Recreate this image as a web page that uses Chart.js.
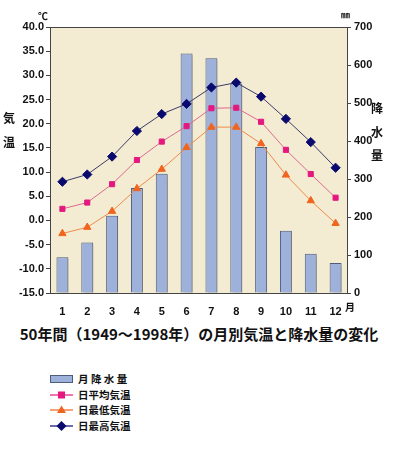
<!DOCTYPE html>
<html><head><meta charset="utf-8">
<script src="https://cdn.jsdelivr.net/npm/chart.js@4"></script>
<style>
html,body{margin:0;padding:0;background:#fff;width:397px;height:449px;overflow:hidden;position:relative;font-family:"Noto Sans CJK JP","Liberation Sans",sans-serif;}
#wrap{position:absolute;left:0;top:0;width:397px;height:320px;}
.lbl{position:absolute;font-weight:bold;color:#111;line-height:1;white-space:nowrap;}
.vert{position:absolute;font-weight:bold;color:#111;font-size:12px;line-height:23.5px;width:14px;text-align:center;}
#title{position:absolute;left:0;width:398px;top:326px;text-align:center;font-size:15px;font-weight:bold;color:#111;line-height:1;}
#legend{position:absolute;left:50px;top:371px;}
.li{height:15.6px;position:relative;}
.li .sym{position:absolute;left:0;top:0;width:23px;height:15px;}
.li .txt{position:absolute;left:28px;top:1px;font-size:10.5px;font-weight:bold;color:#111;line-height:13px;white-space:nowrap;}
</style></head>
<body>
<div id="wrap"><canvas id="c" width="397" height="320"></canvas></div>
<div class="lbl" style="left:38px;top:11px;font-size:10px;">℃</div>
<div class="lbl" style="left:341px;top:10px;font-size:9px;">㎜</div>
<div class="lbl" style="left:345px;top:302px;font-size:10px;">月</div>
<div class="vert" style="left:2px;top:106px;">気<br>温</div>
<div class="vert" style="left:370px;top:96px;">降<br>水<br>量</div>
<div id="title">50年間（1949～1998年）の月別気温と降水量の変化</div>
<div id="legend"></div>
<script>
const months = ['1','2','3','4','5','6','7','8','9','10','11','12'];
const precipitation = [94,133,203,276,314,630,618,551,384,164,103,79];
const tempAvg = [2.4,3.7,7.5,12.5,16.3,19.5,23.2,23.3,20.4,14.6,9.6,4.7];
const tempMin = [-2.7,-1.4,1.9,6.6,10.6,15.1,19.3,19.3,15.9,9.4,4.1,-0.6];
const tempMax = [8.0,9.5,13.2,18.5,22.0,24.1,27.5,28.5,25.6,21.0,16.2,10.9];
const tempTicks = {min:-15,max:40,step:5};
const precipTicks = {min:0,max:700,step:100};

const tickFont = {family:'"Liberation Sans", Arial, sans-serif', size:11, weight:'bold'};

const bgPlugin = {
  id:'bg',
  beforeDatasetsDraw(chart){
    const {ctx, chartArea:a} = chart;
    ctx.save(); ctx.fillStyle = '#F3ECD3';
    ctx.fillRect(a.left, a.top, a.right-a.left, a.bottom-a.top);
    ctx.restore();
  },
  beforeDatasetDraw(chart, args){
    if (chart.data.datasets[args.index].type === 'bar'){
      const ctx = chart.ctx; ctx.save();
      ctx.shadowColor = 'rgba(120,120,120,0.55)';
      ctx.shadowOffsetX = 3; ctx.shadowOffsetY = 2; ctx.shadowBlur = 2;
    }
  },
  afterDatasetDraw(chart, args){
    if (chart.data.datasets[args.index].type === 'bar') chart.ctx.restore();
  },
  afterDatasetsDraw(chart){
    const {ctx, chartArea:a} = chart;
    ctx.save(); ctx.strokeStyle = '#444'; ctx.lineWidth = 1;
    ctx.strokeRect(Math.round(a.left)+0.5, Math.round(a.top)+0.5, Math.round(a.right-a.left)-1, Math.round(a.bottom-a.top));
    ctx.restore();
  }
};

const chart = new Chart(document.getElementById('c'), {
  data:{
    labels: months,
    datasets:[
      {type:'bar', label:'月 降 水 量', data:precipitation, yAxisID:'y2', order:10,
       backgroundColor:'#9DB1DB', borderColor:'#4E5D7E', borderWidth:1,
       barPercentage:0.48, categoryPercentage:1},
      {type:'line', label:'日平均気温', data:tempAvg, yAxisID:'y', order:2,
       borderColor:'#DC6A8E', borderWidth:1, pointStyle:'rect', pointRadius:3.6,
       pointBackgroundColor:'#E4187E', pointBorderColor:'#E4187E', legendColor:'#E4187E'},
      {type:'line', label:'日最低気温', data:tempMin, yAxisID:'y', order:3,
       borderColor:'#F08A4A', borderWidth:1, pointStyle:'triangle', pointRadius:4.2,
       pointBackgroundColor:'#F0641E', pointBorderColor:'#F0641E', legendColor:'#F0641E'},
      {type:'line', label:'日最高気温', data:tempMax, yAxisID:'y', order:1,
       borderColor:'#3B3B66', borderWidth:1, pointStyle:'rectRot', pointRadius:4.6,
       pointBackgroundColor:'#0A0A6E', pointBorderColor:'#0A0A6E', legendColor:'#0A0A6E'}
    ]
  },
  options:{
    responsive:false, animation:false, devicePixelRatio:1,
    layout:{padding:{top:27,left:0,right:0,bottom:0}},
    plugins:{legend:{display:false}, tooltip:{enabled:false}},
    scales:{
      x:{
        grid:{display:false}, border:{display:false},
        ticks:{color:'#111', font:tickFont, padding:4, maxRotation:0},
        afterFit(s){ s.height = 27; }
      },
      y:{
        position:'left', min:tempTicks.min, max:tempTicks.max,
        grid:{drawOnChartArea:false, tickLength:4, color:'#444'}, border:{display:false},
        ticks:{stepSize:tempTicks.step, color:'#111', font:tickFont, padding:2,
               callback:v=>Number(v).toFixed(1)},
        afterFit(s){ s.width = 50; }
      },
      y2:{
        position:'right', min:precipTicks.min, max:precipTicks.max,
        grid:{drawOnChartArea:false, tickLength:3, color:'#444'}, border:{display:false},
        ticks:{stepSize:precipTicks.step, color:'#111', font:tickFont, padding:3},
        afterFit(s){ s.width = 49; }
      }
    }
  },
  plugins:[bgPlugin]
});

// HTML legend built from the chart's datasets
const leg = document.getElementById('legend');
chart.data.datasets.forEach(ds=>{
  const row = document.createElement('div'); row.className='li';
  const sym = document.createElement('canvas'); sym.className='sym'; sym.width=23; sym.height=15;
  const c = sym.getContext('2d');
  if (ds.type==='bar'){
    c.fillStyle = ds.backgroundColor; c.fillRect(0.5,4.5,22,7);
    c.strokeStyle = ds.borderColor; c.lineWidth=1; c.strokeRect(0.5,4.5,22,7);
  } else {
    c.strokeStyle = ds.legendColor; c.lineWidth=1.2;
    c.beginPath(); c.moveTo(0,8); c.lineTo(23,8); c.stroke();
    c.fillStyle = ds.legendColor; c.beginPath();
    if (ds.pointStyle==='rect'){ c.fillRect(8,4.5,7,7); }
    else if (ds.pointStyle==='triangle'){ c.moveTo(11.5,3.5); c.lineTo(16,11); c.lineTo(7,11); c.closePath(); c.fill(); }
    else { c.moveTo(11.5,3); c.lineTo(16.5,8); c.lineTo(11.5,13); c.lineTo(6.5,8); c.closePath(); c.fill(); }
  }
  const t = document.createElement('div'); t.className='txt'; t.textContent = ds.label;
  row.appendChild(sym); row.appendChild(t); leg.appendChild(row);
});
</script>
</body></html>
